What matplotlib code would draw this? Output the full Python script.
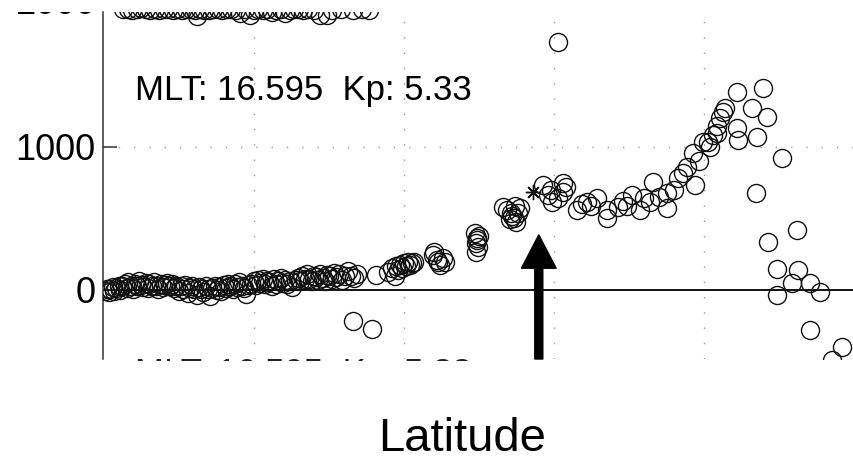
import matplotlib
matplotlib.use("Agg")
import matplotlib.pyplot as plt

plt.rcParams['font.family'] = ['Liberation Sans', 'DejaVu Sans']

# ---------------- data (latitude, value) ----------------
low_lat = [50.05, 50.1, 50.17, 50.22, 50.3, 50.35, 50.42, 50.5, 50.55, 50.62, 50.7, 50.77, 50.83, 50.9,
           50.97, 51.05, 51.1, 51.18, 51.25, 51.32, 51.4, 51.47, 51.53, 51.6, 51.68, 51.75, 51.82, 51.9,
           51.97, 52.05, 52.12, 52.2,
           52.28, 52.35, 52.43, 52.5, 52.58, 52.65, 52.73, 52.8, 52.88, 52.95, 53.03, 53.1, 53.18, 53.25,
           53.33, 53.4, 53.48, 53.55, 53.63, 53.7, 53.78, 53.85, 53.93, 54.0, 54.08, 54.15, 54.23, 54.3,
           54.38, 54.45, 54.53, 54.6, 54.68, 54.75, 54.82,
           54.92, 55.0, 55.08, 55.15, 55.22, 55.3, 55.38, 55.45, 55.52, 55.6, 55.68, 55.75, 55.82, 55.9,
           55.98, 56.05, 56.12, 56.2, 56.28,
           56.4, 56.48, 56.55, 56.62, 56.7, 56.78, 56.85, 56.93, 57.0, 57.08, 57.15, 57.22, 57.3, 57.38,
           57.45, 57.52, 57.6, 57.68, 57.75, 57.85, 57.95, 58.05, 58.15, 58.25, 58.35, 58.45]
low_val = [-5, 10, -15, 5, 20, -10, 15, 30, 0, 25, 40, 15, 55, 30,
           10, 45, 25, 60, 35, 20, 50, 15, 40, 25, 55, 30, 10, 45,
           20, 35, 50, 25,
           40, 15, 30, -5, 25, 10, 35, -20, 15, 30, 5, -35, 20, 10,
           -15, 25, 5, -40, 15, 30, 0, 20, -10, 35, 15, 45, 25, 10,
           40, 20, 55, 30, 15, -25, 35,
           45, 60, 35, 70, 50, 80, 40, 65, 55, 30, 75, 45, 60, 85,
           50, 70, 40, 65, 20,
           70, 85, 60, 95, 75, 110, 80, 65, 100, 90, 70, 115, 85, 60,
           105, 95, 75, 120, 90, 110, 70, 100, 130, 95, 85, 115]

rise_lat = [58.3, 58.93, 59.07, 59.47, 59.6, 59.73, 59.87, 60.0, 60.13, 60.27, 59.8, 59.93, 60.07, 60.2,
            60.33, 59.7, 60.97, 61.1, 61.2, 61.3, 61.37, 61.13, 61.0,
            62.37, 62.43, 62.4, 62.47, 62.4, 62.5, 62.45,
            63.3, 63.43, 63.57, 63.67, 63.8, 63.87, 63.7, 63.53, 63.73, 63.6]
rise_val = [-217, -273, 105, 126, 154, 168, 175, 189, 196, 189, 140, 154, 168, 175,
            196, 98, 245, 210, 175, 224, 196, 196, 265,
            399, 364, 329, 301, 266, 378, 350,
            580, 559, 538, 503, 538, 573, 587, 496, 476, 520]

peak_lat = [64.63, 65.3, 64.93, 65.3, 64.8, 65.13, 64.9, 65.4, 65.77, 66.1, 66.43, 66.77, 66.77, 67.13,
            67.6, 67.87, 68.2, 68.3, 68.77, 68.77, 69.13, 69.43, 69.7, 69.63, 69.97, 70.13, 70.3, 70.43,
            70.63, 70.7, 71.1, 71.6, 71.97, 72.1, 71.1, 71.13, 71.77, 72.6, 71.73, 73.1, 72.13, 72.43,
            73.13, 72.93, 73.53, 73.87, 72.43, 73.53, 74.6, 74.27,
            65.95, 66.25, 67.3, 67.45, 68.0, 68.5, 69.0, 69.3, 69.85, 70.2, 70.55, 70.45, 65.13]
peak_val = [734, 748, 615, 685, 664, 643, 700, 720, 559, 615, 643, 559, 503, 580,
            664, 559, 615, 755, 573, 678, 783, 860, 734, 958, 1035, 1035, 1084, 1098,
            1245, 1273, 1385, 1273, 1413, 1210, 1133, 1049, 1070, 923, 678, 420, 336, 147,
            140, 49, 49, -14, -35, -280, -399, -490,
            600, 590, 620, 590, 640, 650, 700, 820, 900, 1000, 1200, 1150, 1734]

top_lat = [50.65, 50.8, 50.95, 51.1, 51.25, 51.4, 51.55, 51.7, 51.85, 52.0, 52.15, 52.3, 52.45, 52.6,
           52.75, 52.9, 53.05, 53.13, 53.2, 53.35, 53.5, 53.65, 53.8, 53.95, 54.1, 54.25, 54.4, 54.55,
           54.7, 54.87, 55.0, 55.15, 55.3, 55.45, 55.6, 55.75, 55.9, 56.05, 56.2, 56.35, 56.5, 56.65,
           56.8, 57.0, 57.2, 57.43, 57.6, 57.9, 58.3, 58.6, 58.85]
top_val = [1962, 1968, 1960, 1965, 1970, 1962, 1958, 1966, 1960, 1968, 1963, 1957, 1965, 1960,
           1968, 1962, 1958, 1918, 1966, 1960, 1955, 1963, 1967, 1958, 1962, 1965, 1957, 1940,
           1963, 1925, 1960, 1966, 1958, 1962, 1945, 1960, 1964, 1940, 1958, 1962, 1966, 1958,
           1962, 1960, 1925, 1920, 1958, 1962, 1957, 1963, 1960]

star_lat = [64.3]
star_val = [685]

arrow_lat = 64.5
arrow_tip = 385

y_ticks = [0, 1000]
x_grid = [50, 55, 60, 65, 70, 75]
info_text = "MLT: 16.595  Kp: 5.33"
cut_label = "2000"
xlabel = "Latitude"

# ---------------- figure ----------------
W, H = 854, 458
fig = plt.figure(figsize=(W / 100, H / 100), dpi=100)
ax = fig.add_axes([103.5 / W, (H - 359) / H, (W - 103.5) / W, 347 / H])
ax.set_xlim(50, 75)
ax.set_ylim(-483, 1944)

for s in ['top', 'right', 'bottom']:
    ax.spines[s].set_visible(False)
ax.spines['left'].set_linewidth(1.1)
ax.spines['left'].set_color('#333333')

ax.set_xticks(x_grid)
ax.tick_params(axis='x', length=0, labelbottom=False)
ax.set_yticks(y_ticks)
ax.set_yticklabels([str(v) for v in y_ticks])
ax.tick_params(axis='y', direction='in', length=10, width=1.1, color='#333333',
               labelsize=26, pad=6)

gridkw = dict(color='#999999', lw=1.0, ls=(0, (1, 10)), zorder=0)
for xv in x_grid[1:]:
    ax.axvline(xv, **gridkw)
ax.axhline(1000, **gridkw)
ax.axhline(0, color='black', lw=1.3, zorder=1)

mk = dict(ls='none', marker='o', ms=13, mfc='none', mec='#111111', mew=1.0, zorder=3)
ax.plot(low_lat, low_val, **mk)
ax.plot(rise_lat, rise_val, **mk)
ax.plot(peak_lat, peak_val, **mk)
ax.plot(top_lat, top_val, **mk)
ax.plot(star_lat, star_val, ls='none', marker=(8, 2, 0), ms=11, mec='#111111', mew=1.0, zorder=3)

ax.annotate('', xy=(arrow_lat, arrow_tip), xytext=(arrow_lat, -483),
            arrowprops=dict(arrowstyle='simple,head_length=24,head_width=25,tail_width=5.8',
                            mutation_scale=1, color='black', shrinkA=0, shrinkB=0), zorder=5)

ax.text(0.042, 0.746, info_text, transform=ax.transAxes, fontsize=25, va='baseline', ha='left')

# strip just below the crop line: only the tops of the next panel's letters show
ax_bot = fig.add_axes([0, (H - 361) / H, 1, 6 / H])
ax_bot.axis('off')
ax_bot.text(135 / W, (361 - 357.5) / 6, info_text, transform=ax_bot.transAxes, fontsize=25,
            va='top', ha='left', clip_on=True, color='#222222')

# strip at the top-left: only the bottoms of the panel above's tick label show
ax_top = fig.add_axes([0, (H - 40) / H, 100 / W, 28.5 / H])
ax_top.axis('off')
ax_top.text(95 / 100, (40 - 14) / 28.5, cut_label, transform=ax_top.transAxes, fontsize=26,
            ha='right', va='baseline', clip_on=True)

fig.text(462 / W, (H - 451) / H, xlabel, fontsize=34, ha='center', va='baseline')

fig.savefig('out.png', dpi=100)
